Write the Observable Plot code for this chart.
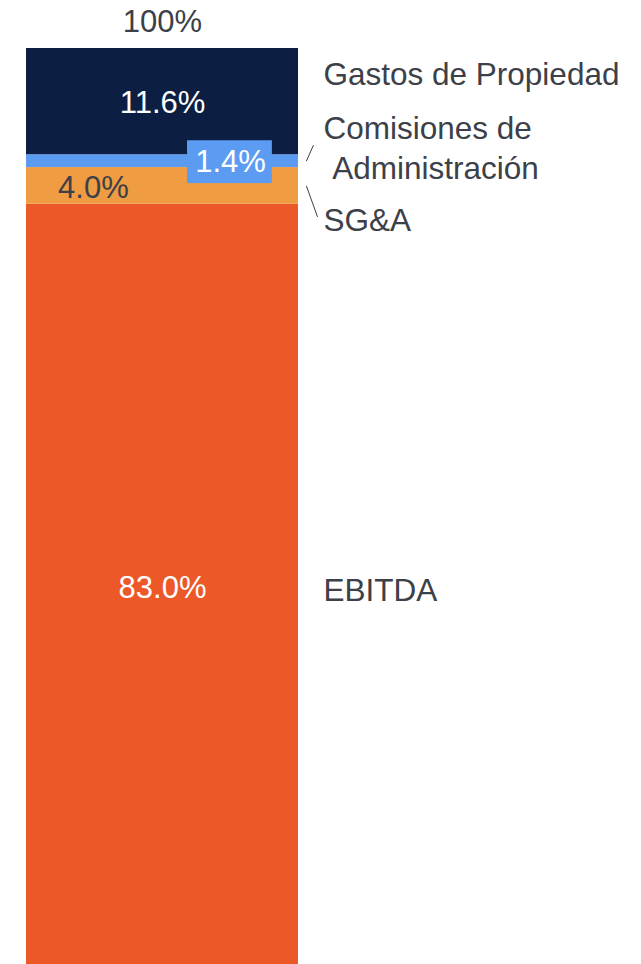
<!DOCTYPE html>
<html>
<head>
<meta charset="utf-8">
<script src="https://cdn.jsdelivr.net/npm/d3@7"></script>
<script src="https://cdn.jsdelivr.net/npm/@observablehq/plot@0.6"></script>
<style>
  html, body { margin: 0; padding: 0; background: #ffffff; }
  #chart svg { display: block; }
</style>
</head>
<body>
<div id="chart"></div>
<script>
// ---- data (bottom to top) ----
const categories = ["EBITDA", "SG&A", "Comisiones de Administración", "Gastos de Propiedad"];
const values = [83.0, 4.0, 1.4, 11.6];
const valueLabels = ["83.0%", "4.0%", "1.4%", "11.6%"];
const sideLabels = ["EBITDA", "SG&A", "Comisiones de\n\u00a0Administración", "Gastos de Propiedad"];
const totalLabel = "100%";
const colors = ["#ec5828", "#ef9c42", "#5b9cf2", "#0c1f42"];

// ---- build stacked table ----
const ends = d3.cumsum(values);
const rows = categories.map((c, i) => ({
  category: c,
  value: values[i],
  y1: ends[i] - values[i],
  y2: ends[i],
  mid: ends[i] - values[i] / 2,
  valueLabel: valueLabels[i],
  sideLabel: sideLabels[i],
  color: colors[i]
}));
const total = ends[ends.length - 1];

// ---- styling per segment ----
const H = 964, TOP = 48;
const pxPerUnit = (H - TOP) / 100;
const inside = {
  "EBITDA": {x: 0.5, dy: 4, fill: "#ffffff"},
  "SG&A": {x: 0.246, dy: 2, fill: "#3c4048"},
  "Comisiones de Administración": {x: 0.75, dy: 1, fill: "#ffffff"},
  "Gastos de Propiedad": {x: 0.5, dy: 1, fill: "#ffffff"}
};
const sideDy = {
  "EBITDA": 4,
  "SG&A": 32,
  "Comisiones de Administración": -14.5,
  "Gastos de Propiedad": -29
};
const font = "'Liberation Sans', Arial, sans-serif";
const textColor = "#3c4048";

const com = rows.find(d => d.category === "Comisiones de Administración");
const sga = rows.find(d => d.category === "SG&A");
const leaders = [
  {x1: 1.029, x2: 1.055, y1: com.mid, y2: com.mid + 16 / pxPerUnit},
  {x1: 1.029, x2: 1.07, y1: sga.mid, y2: sga.mid - 31 / pxPerUnit}
];

const chart = Plot.plot({
  width: 641,
  height: H,
  marginTop: TOP,
  marginBottom: 0,
  marginLeft: 26,
  marginRight: 343,
  style: {fontFamily: font, background: "#ffffff"},
  x: {domain: [0, 1], axis: null},
  y: {domain: [0, 100], axis: null},
  marks: [
    Plot.rect(rows, {x1: 0, x2: 1, y1: "y1", y2: "y2", fill: "color"}),
    // label box for the small segment
    Plot.rect([com], {x1: 0.592, x2: 0.904, y1: "y1", y2: "y2", fill: "color", insetTop: -14, insetBottom: -16}),
    // inside value labels
    ...rows.map(d => Plot.text([d], {
      x: inside[d.category].x,
      y: "mid",
      text: "valueLabel",
      fill: inside[d.category].fill,
      dy: inside[d.category].dy,
      fontSize: 31,
      fontFamily: font
    })),
    // side labels
    ...rows.map(d => Plot.text([d], {
      x: 1,
      y: "mid",
      dx: 25,
      dy: sideDy[d.category],
      text: "sideLabel",
      textAnchor: "start",
      fill: textColor,
      fontSize: 31.5,
      lineHeight: 1.27,
      fontFamily: font
    })),
    // leader lines
    Plot.link(leaders, {x1: "x1", x2: "x2", y1: "y1", y2: "y2", stroke: "#3c4048", strokeWidth: 1}),
    // total label
    Plot.text([totalLabel], {x: 0.5, y: total, dy: -26, text: d => d, fill: textColor, fontSize: 31, fontFamily: font})
  ]
});

document.getElementById("chart").appendChild(chart);
</script>
</body>
</html>
